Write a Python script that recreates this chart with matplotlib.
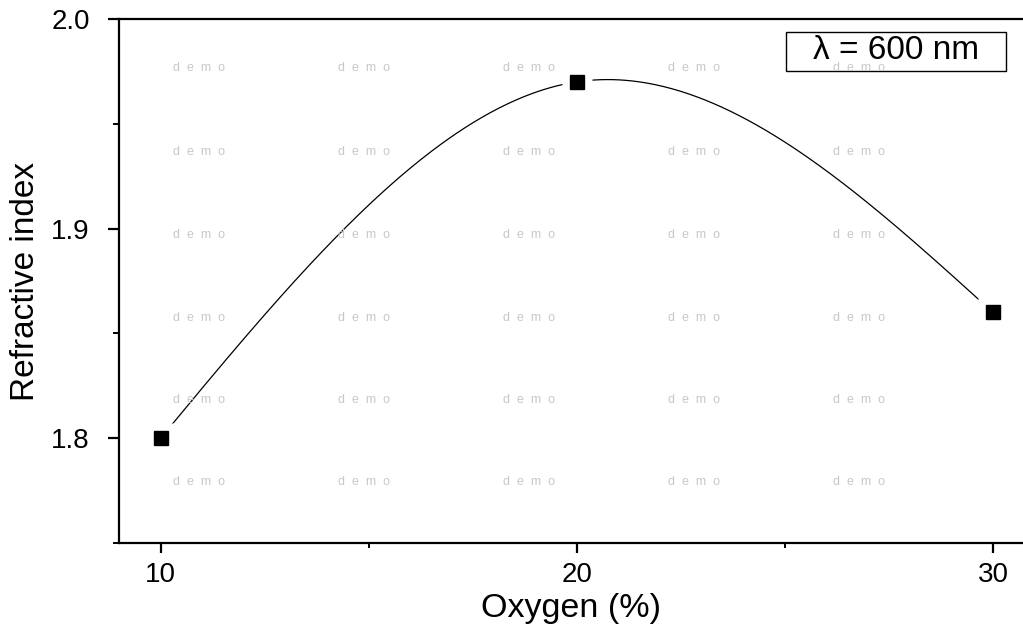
import numpy as np
import matplotlib
matplotlib.use("Agg")
import matplotlib.pyplot as plt
from matplotlib.patches import Rectangle
from matplotlib.ticker import MultipleLocator, FormatStrFormatter

plt.rcParams['font.family'] = ['Liberation Sans', 'DejaVu Sans']

# data
oxygen = [10, 20, 30]
refr_index = [1.80, 1.97, 1.86]
label_text = "λ = 600 nm"

# watermark grid (figure pixels)
wm_x = [199, 364, 529, 694, 859]
wm_y = [68, 152, 235, 318, 400, 482]


def natural_spline(x, y, xs):
    # plain natural cubic spline, just for drawing the smooth line
    x = np.asarray(x, float)
    y = np.asarray(y, float)
    n = len(x)
    h = np.diff(x)
    A = np.zeros((n, n))
    b = np.zeros(n)
    A[0, 0] = A[-1, -1] = 1
    for i in range(1, n - 1):
        A[i, i - 1] = h[i - 1]
        A[i, i] = 2 * (h[i - 1] + h[i])
        A[i, i + 1] = h[i]
        b[i] = 6 * ((y[i + 1] - y[i]) / h[i] - (y[i] - y[i - 1]) / h[i - 1])
    M = np.linalg.solve(A, b)
    idx = np.clip(np.searchsorted(x, xs) - 1, 0, n - 2)
    x0, x1 = x[idx], x[idx + 1]
    hh = x1 - x0
    t0, t1 = x1 - xs, xs - x0
    return (M[idx] * t0**3 / (6 * hh) + M[idx + 1] * t1**3 / (6 * hh)
            + (y[idx] / hh - M[idx] * hh / 6) * t0
            + (y[idx + 1] / hh - M[idx + 1] * hh / 6) * t1)


W, H = 1023, 629
fig = plt.figure(figsize=(W / 100, H / 100), dpi=100)
ax = fig.add_axes([119 / W, 1 - 543 / H, (W - 119) / W, (543 - 19) / H])

xs = np.linspace(oxygen[0], oxygen[-1], 400)
ax.plot(xs, natural_spline(oxygen, refr_index, xs), color='black', lw=0.9, zorder=2)
# white halo under markers gives the gap in the line
ax.plot(oxygen, refr_index, ls='none', marker='s', ms=21, mfc='white', mec='none', zorder=3)
ax.plot(oxygen, refr_index, ls='none', marker='s', ms=10, mfc='black', mec='black', zorder=4)

ax.set_xlim(9.0, 30.72)
ax.set_ylim(1.75, 2.0)
ax.xaxis.set_major_locator(MultipleLocator(10))
ax.xaxis.set_minor_locator(MultipleLocator(5))
ax.yaxis.set_major_locator(MultipleLocator(0.1))
ax.yaxis.set_minor_locator(MultipleLocator(0.05))
ax.yaxis.set_major_formatter(FormatStrFormatter('%.1f'))

ax.spines['right'].set_visible(False)
for s in ['left', 'bottom', 'top']:
    ax.spines[s].set_linewidth(1.6)

ax.tick_params(axis='x', which='major', direction='out', length=7.5, width=1.6, labelsize=20, pad=6)
ax.tick_params(axis='x', which='minor', direction='out', length=3.5, width=1.4)
ax.tick_params(axis='y', which='major', direction='out', length=8, width=1.6, labelsize=20, pad=13)
ax.tick_params(axis='y', which='minor', direction='out', length=4.5, width=1.4)

ax.set_xlabel("Oxygen (%)", fontsize=24.5, labelpad=4)
ax.set_ylabel("Refractive index", fontsize=24)
ax.yaxis.set_label_coords(-((119 - 41) / (W - 119)), 0.5)

# label box
ax.add_patch(Rectangle((0.738, 0.901), 0.243, 0.074, transform=ax.transAxes,
                       fill=True, fc='white', ec='black', lw=1.0, zorder=5))
ax.text(0.8595, 0.939, label_text, transform=ax.transAxes, ha='center', va='center',
        fontsize=24, zorder=6)

# watermark
for yy in wm_y:
    for xx in wm_x:
        fig.text(xx / W, 1 - yy / H, "d  e  m  o", ha='center', va='center',
                 fontsize=9, color='#c8c8c8', zorder=1)

fig.savefig("out.png", dpi=100)
